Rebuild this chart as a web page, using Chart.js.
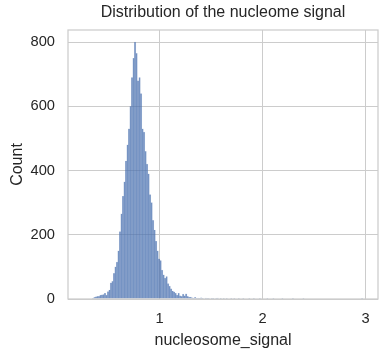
<!DOCTYPE html>
<html>
<head>
<meta charset="utf-8">
<script src="https://cdn.jsdelivr.net/npm/chart.js@4.4.0/dist/chart.umd.min.js"></script>
<style>
html,body{margin:0;padding:0;background:#fff;}
#wrap{width:389px;height:357px;}
</style>
</head>
<body>
<div id="wrap"><canvas id="c" width="389" height="357"></canvas></div>
<script>
// Histogram data
const binStart = 0.345;
const binWidth = 0.0146;
const counts = [
  2, 5, 7, 8, 8, 12, 13, 14, 18, 12,
  23, 28, 50, 55, 80, 100, 115, 150, 210, 265,
  320, 365, 430, 480, 530, 600, 690, 750, 800, 765,
  680, 690, 640, 530, 520, 460, 420, 390, 325, 300,
  245, 215, 180, 150, 125, 120, 90, 75, 65, 70,
  48, 40, 32, 25, 22, 18, 12, 18, 10, 8,
  15, 10, 16, 8, 6, 6, 4, 3, 5, 2,
  3, 1, 4, 2, 0, 3, 1, 2, 0, 1,
  2, 0, 1, 3, 0, 1, 0, 2, 0, 1,
  0, 0, 1, 0, 2, 0, 0, 1, 0, 0,
  1, 0, 0, 0, 1, 0, 0, 1, 0, 0,
  0, 1, 0, 0, 0, 0, 1, 0, 0, 0,
  1, 0, 0, 0, 0, 0, 1, 0, 0, 0,
  0, 0, 0, 1, 0, 0, 0, 0, 0, 0,
  1, 0, 0, 0, 0, 0, 0, 0, 0, 0,
  0, 0, 0, 0, 0, 0, 0, 0, 0, 0,
  0, 0, 0, 0, 0, 0, 0, 0, 0, 0,
  0, 0, 0, 0, 0, 0, 0, 0, 0, 1
];
const xTicks = [1, 2, 3];
const yTicks = [0, 200, 400, 600, 800];
const titleText = 'Distribution of the nucleome signal';
const xLabel = 'nucleosome_signal';
const yLabel = 'Count';

const points = counts.map((c, i) => ({x: binStart + binWidth * (i + 0.5), y: c}));

const font = 'Liberation Sans, Arial, sans-serif';

const frame = {
  id: 'frame',
  afterDatasetsDraw(chart) {
    const a = chart.chartArea, ctx = chart.ctx;
    ctx.save();
    ctx.strokeStyle = '#cccccc';
    ctx.lineWidth = 1.25;
    ctx.strokeRect(a.left, a.top, a.right - a.left, a.bottom - a.top);
    ctx.restore();
  },
  afterDraw(chart) {
    const a = chart.chartArea, ctx = chart.ctx;
    ctx.save();
    ctx.fillStyle = '#262626';
    ctx.font = '16px ' + font;
    ctx.textAlign = 'center';
    ctx.textBaseline = 'middle';
    ctx.fillText(titleText, (a.left + a.right) / 2, 12.5);
    ctx.restore();
  }
};

new Chart(document.getElementById('c'), {
  type: 'bar',
  data: {
    datasets: [{
      data: points,
      backgroundColor: 'rgba(76,114,176,0.65)',
      borderColor: 'rgba(76,114,176,0.35)',
      borderWidth: 0.4,
      barPercentage: 1,
      categoryPercentage: 1,
      grouped: false
    }]
  },
  options: {
    responsive: false,
    animation: false,
    layout: {padding: {left: 0, right: 11, top: 30, bottom: 0}},
    plugins: {
      legend: {display: false},
      tooltip: {enabled: false},
      title: {display: false}
    },
    scales: {
      x: {
        type: 'linear', min: 0.11, max: 3.12, offset: false,
        afterBuildTicks: s => { s.ticks = xTicks.map(v => ({value: v})); },
        afterFit: s => { s.height = 58; },
        grid: {color: '#cccccc', lineWidth: 1, drawTicks: false, offset: false},
        border: {display: false},
        ticks: {color: '#262626', font: {family: font, size: 14.67}, padding: 11, maxRotation: 0},
        title: {display: true, text: xLabel, color: '#262626', font: {family: font, size: 16}, padding: {top: 0, bottom: 7}}
      },
      y: {
        min: 0, max: 838,
        afterBuildTicks: s => { s.ticks = yTicks.map(v => ({value: v})); },
        afterFit: s => { s.width = 68; },
        grid: {color: '#cccccc', lineWidth: 1, drawTicks: false},
        border: {display: false},
        ticks: {color: '#262626', font: {family: font, size: 14.67}, padding: 13},
        title: {display: true, text: yLabel, color: '#262626', font: {family: font, size: 16}, padding: {top: 8, bottom: 0}}
      }
    }
  },
  plugins: [frame]
});
</script>
</body>
</html>
